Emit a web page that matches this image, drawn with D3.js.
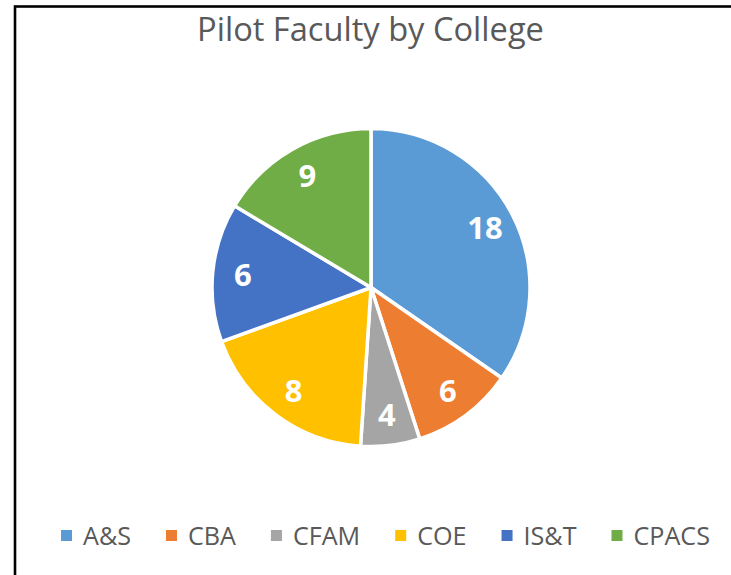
<!DOCTYPE html>
<html>
<head>
<meta charset="utf-8">
<script src="https://cdn.jsdelivr.net/npm/d3@7"></script>
<style>
  html, body { margin: 0; padding: 0; background: #fff; }
  svg { display: block; }
</style>
</head>
<body>
<svg id="chart" width="731" height="575"></svg>
<script>
const title = "Pilot Faculty by College";
const categories = ["A&S", "CBA", "CFAM", "COE", "IS&T", "CPACS"];
// values shown in the data labels
const labels = [18, 6, 4, 8, 6, 9];
// slice sizes as drawn in the picture (share of the circle, %)
const sliceShares = [34.6, 10.4, 6.0, 18.4, 14.1, 16.4];
const colors = ["#5B9BD5", "#ED7D31", "#A5A5A5", "#FFC000", "#4472C4", "#70AD47"];

const W = 731, H = 575;
const FONT = "'Open Sans', 'Noto Sans', sans-serif";
const textColor = "#595959";
const svg = d3.select("#chart");

// chart border (extends past right/bottom of the window)
svg.append("rect")
  .attr("x", 15).attr("y", 6.5)
  .attr("width", 760).attr("height", 600)
  .attr("fill", "#fff").attr("stroke", "#000").attr("stroke-width", 2.6);

function fitSize(texts, targetWidth, weight) {
  const probe = svg.append("g");
  let total = 0;
  texts.forEach(t => {
    const el = probe.append("text").attr("font-family", FONT)
      .attr("font-size", 100).attr("font-weight", weight || "normal").text(t);
    total += el.node().getComputedTextLength();
  });
  probe.remove();
  return 100 * targetWidth / total;
}

// title
const titleSize = fitSize([title], 347);
svg.append("text")
  .attr("x", 370.5).attr("y", 41)
  .attr("text-anchor", "middle")
  .attr("font-family", FONT).attr("font-size", titleSize)
  .attr("fill", textColor)
  .text(title);

// pie
const cx = 371, cy = 287.5, r = 159;
const pie = d3.pie().sort(null).value(d => d.share);
const data = categories.map((c, i) => ({ name: c, share: sliceShares[i], label: labels[i], color: colors[i] }));
const arcs = pie(data);
const arc = d3.arc().innerRadius(0).outerRadius(r);
const labelArc = d3.arc().innerRadius(r * 0.81).outerRadius(r * 0.81);

const g = svg.append("g").attr("transform", `translate(${cx},${cy})`);
g.selectAll("path.slice").data(arcs).enter().append("path")
  .attr("class", "slice")
  .attr("d", arc)
  .attr("fill", d => d.data.color)
  .attr("stroke", "#fff").attr("stroke-width", 3.5)
  .attr("stroke-linejoin", "round");

g.selectAll("text.lbl").data(arcs).enter().append("text")
  .attr("class", "lbl")
  .attr("transform", d => `translate(${labelArc.centroid(d)})`)
  .attr("text-anchor", "middle")
  .attr("dy", "0.36em")
  .attr("font-family", FONT).attr("font-weight", "bold").attr("font-size", 31)
  .attr("fill", "#fff")
  .text(d => d.data.label);

// legend
const legendSize = fitSize(categories, 342);
const sq = 11, gapSq = 11, gapItem = 35;
const lg = svg.append("g");
let x = 61;
const baseY = 545;
categories.forEach((c, i) => {
  lg.append("rect")
    .attr("x", x).attr("y", baseY - 15).attr("width", sq).attr("height", sq)
    .attr("fill", colors[i]);
  const t = lg.append("text")
    .attr("x", x + sq + gapSq).attr("y", baseY)
    .attr("font-family", FONT).attr("font-size", legendSize)
    .attr("fill", textColor).text(c);
  x += sq + gapSq + t.node().getComputedTextLength() + gapItem;
});
</script>
</body>
</html>
